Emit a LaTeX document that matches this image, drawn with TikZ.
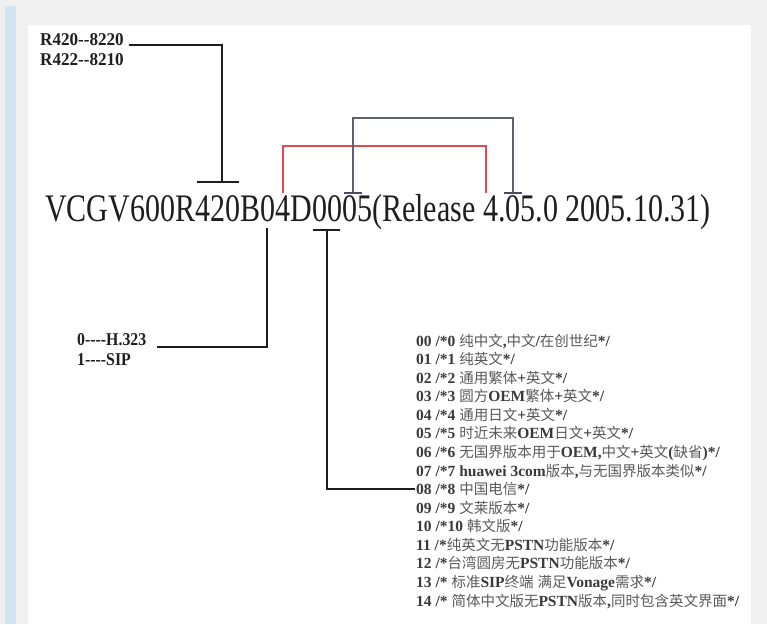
\documentclass[tikz,border=0pt]{standalone}
\usepackage{fontspec}
\usepackage{graphicx}
\setmainfont{Liberation Serif}
\newfontfamily\cjk{Noto Sans CJK SC}
\definecolor{bggray}{HTML}{F0F0F0}
\definecolor{stripblue}{HTML}{D0E4F2}
\definecolor{redline}{HTML}{E24A4F}
\definecolor{slateline}{HTML}{5C6072}
\definecolor{txt}{HTML}{1E1E1E}
\definecolor{listtxt}{HTML}{3A3A3A}
\definecolor{cjktxt}{HTML}{5A5A5A}
\newcommand{\zh}[1]{{\cjk\mdseries\color{cjktxt}\fontsize{14.5}{14.5}\selectfont#1}}
\tikzset{
  lbl/.style={anchor=base west, inner sep=0, text=txt, font=\fontsize{18}{18}\selectfont\bfseries},
  maintxt/.style={anchor=base west, inner sep=0, text=txt, font=\fontsize{39}{39}\selectfont},
  itemtxt/.style={anchor=base west, inner sep=0, text=listtxt, font=\fontsize{15.5}{15.5}\selectfont\bfseries},
  blk/.style={draw=txt, line width=2pt},
  tbar/.style={draw=txt, line width=2.6pt},
  redc/.style={draw=redline, line width=1.5pt},
  slatec/.style={draw=slateline, line width=1.5pt},
  slatebar/.style={draw=slateline!80!black, line width=2.6pt},
}
\begin{document}
\begin{tikzpicture}[x=1pt,y=-1pt]
\useasboundingbox (0,0) rectangle (767,624);
\fill[bggray] (0,0) rectangle (767,624);
\fill[stripblue] (5,6) rectangle (16,624);
\fill[white] (28,25) rectangle (751,624);

% labels top left
\node[lbl] (r1) at (40,45) {\scalebox{0.95}[1]{R420-{}-8220}};
\node[lbl] (r2) at (40,65) {\scalebox{0.95}[1]{R422-{}-8210}};

% main code
\node[maintxt] (code) at (45,221) {\scalebox{0.77}[1]{VCGV600R420B04D0005(Release 4.05.0 2005.10.31)}};

% top black bracket
\coordinate (b0) at (129,45);
\coordinate (b1) at (222,182);
\draw[blk] (b0) -| (b1);
\draw[tbar] (197,182) -- (239,182);

% red bracket
\coordinate (ra) at (283,193);
\coordinate (rb) at (486,193);
\draw[redc] (ra) -- ++(0,-47) -| (rb);

% slate bracket
\coordinate (sa) at (353,193);
\coordinate (sb) at (513,193);
\draw[slatec] (sa) -- ++(0,-75) -| (sb);
\draw[slatebar] (344,193) -- (362,193);
\draw[slatebar] (504,193) -- (522,193);

% protocol labels
\node[lbl] (p0) at (77,345) {\scalebox{0.88}[1]{0-{}-{}-{}-H.323}};
\node[lbl] (p1) at (77,365) {\scalebox{0.88}[1]{1-{}-{}-{}-SIP}};
\coordinate (pa) at (267,228);
\coordinate (pb) at (157,347);
\draw[blk] (pa) |- (pb);

% list
\node[itemtxt] (i00) at (416,346) {00 /*0 \zh{纯中文},\zh{中文}/\zh{在创世纪}*/};
\node[itemtxt] (i01) at (416,364.6) {01 /*1 \zh{纯英文}*/};
\node[itemtxt] (i02) at (416,383.1) {02 /*2 \zh{通用繁体}+\zh{英文}*/};
\node[itemtxt] (i03) at (416,401.7) {03 /*3 \zh{圆方}OEM\zh{繁体}+\zh{英文}*/};
\node[itemtxt] (i04) at (416,420.3) {04 /*4 \zh{通用日文}+\zh{英文}*/};
\node[itemtxt] (i05) at (416,438.9) {05 /*5 \zh{时近未来}OEM\zh{日文}+\zh{英文}*/};
\node[itemtxt] (i06) at (416,457.4) {06 /*6 \zh{无国界版本用于}OEM,\zh{中文}+\zh{英文}(\zh{缺省})*/};
\node[itemtxt] (i07) at (416,476.0) {07 /*7 huawei 3com\zh{版本},\zh{与无国界版本类似}*/};
\node[itemtxt] (i08) at (416,494.6) {08 /*8 \zh{中国电信}*/};
\node[itemtxt] (i09) at (416,513.1) {09 /*9 \zh{文莱版本}*/};
\node[itemtxt] (i10) at (416,531.7) {10 /*10 \zh{韩文版}*/};
\node[itemtxt] (i11) at (416,550.3) {11 /*\zh{纯英文无}PSTN\zh{功能版本}*/};
\node[itemtxt] (i12) at (416,568.9) {12 /*\zh{台湾圆房无}PSTN\zh{功能版本}*/};
\node[itemtxt] (i13) at (416,587.4) {13 /* \zh{标准}SIP\zh{终端} \zh{满足}Vonage\zh{需求}*/};
\node[itemtxt] (i14) at (416,606.0) {14 /* \zh{简体中文版无}PSTN\zh{版本},\zh{同时包含英文界面}*/};

% lower T connector to item 08
\draw[tbar] (313,230) -- (340,230);
\coordinate (ta) at (327,230);
\draw[blk] (ta) |- ([xshift=-1pt]i08.west |- 0,489);
\end{tikzpicture}
\end{document}
